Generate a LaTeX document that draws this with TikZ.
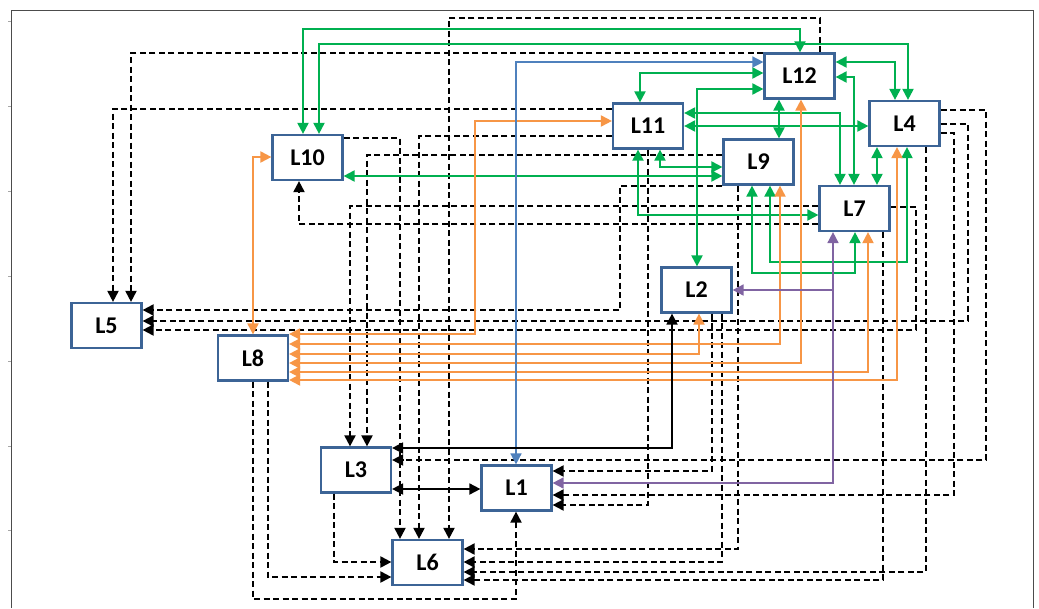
\documentclass[tikz,border=0pt]{standalone}
\usepackage{fontspec}
\setmainfont{Carlito}
\usetikzlibrary{arrows.meta}
\definecolor{boxc}{RGB}{60,100,150}
\definecolor{cgreen}{RGB}{0,176,80}
\definecolor{corange}{RGB}{247,150,70}
\definecolor{cblue}{RGB}{79,129,189}
\definecolor{cpurple}{RGB}{128,100,162}
\begin{document}
\begin{tikzpicture}[x=1pt,y=-1pt,
  >={Triangle[length=11pt,width=11pt]},
  box/.style={draw=boxc,line width=2.2pt,fill=white,minimum width=70pt,minimum height=45pt,inner sep=0pt,font=\bfseries\fontsize{24}{24}\selectfont},
  dsh/.style={draw=black,line width=2pt,dash pattern=on 6pt off 3.5pt,->},
  grn/.style={draw=cgreen,line width=2pt,<->},
  org/.style={draw=corange,line width=2pt,<->},
  blu/.style={draw=cblue,line width=1.6pt,<->},
  pur/.style={draw=cpurple,line width=1.7pt},
  blk/.style={draw=black,line width=1.8pt,<->},
  tick/.style={draw=black!35,line width=0.8pt}]
\useasboundingbox (0,0) rectangle (1039,608);
\fill[white] (0,0) rectangle (1039,608);
% frame and ticks
\draw[black!70,line width=1pt] (11,608) -- (11,10.5) -- (1033,10.5) -- (1033,608);
\foreach \t in {21,106,191,276,361,446,530} \draw[tick] (8,\t) -- (11,\t);
% boxes
\node[box] (L10) at (307.5,157.5) {L10};
\node[box] (L5)  at (106.5,325.5) {L5};
\node[box] (L8)  at (253,358) {L8};
\node[box] (L3)  at (356,470) {L3};
\node[box] (L6)  at (427.5,562.5) {L6};
\node[box] (L1)  at (516.5,488) {L1};
\node[box] (L11) at (648,126) {L11};
\node[box] (L12) at (799.5,76) {L12};
\node[box] (L9)  at (758.5,162) {L9};
\node[box] (L4)  at (904.5,123.5) {L4};
\node[box] (L7)  at (854.5,208.5) {L7};
\node[box] (L2)  at (696.5,290) {L2};
% dashed connectors
\draw[dsh] ([yshift=17]L11.west) -| ([xshift=6.5]L5.north);
\draw[dsh] ([yshift=23]L12.west) -| ([xshift=24.5]L5.north);
\draw[dsh] (L9.south west) -| (620,310) -- ([yshift=15.5]L5.east);
\draw[dsh] ([yshift=-0.5]L4.east) -| (968,321) -- ([yshift=4.5]L5.east);
\draw[dsh] ([yshift=1.5]L7.east) -| (916,330) -- ([yshift=-4.5]L5.east);
\draw[dsh] ([yshift=7]L9.west) -| ([xshift=11]L3.north);
\draw[dsh] ([yshift=2.5]L7.west) -| ([xshift=-6]L3.north);
\draw[dsh] ([yshift=-15.5]L7.west) -| ([xshift=-8.5]L10.south);
\draw[dsh] ([yshift=13.5]L4.east) -| (986,460) -- ([yshift=10]L3.east);
\draw[dsh] ([yshift=-9.5]L4.east) -| (954,495) -- ([yshift=-7]L1.east);
\draw[dsh] ([xshift=21.5]L4.south) |- ([yshift=-9.5]L6.east);
\draw[dsh] ([xshift=28.5]L7.south) |- ([yshift=-17.5]L6.east);
\draw[dsh] ([xshift=-20.5]L9.south) |- ([yshift=13.5]L6.east);
\draw[dsh] ([xshift=25.5]L2.south) |- ([yshift=0.5]L6.east);
\draw[dsh] ([xshift=15.5]L2.south) |- ([yshift=17]L1.east);
\draw[dsh] (L11.south) |- ([yshift=-17]L1.east);
\draw[dsh] (L8.south) |- (516,599) -- ([xshift=-0.5]L1.south);
\draw[dsh] ([xshift=15]L8.south) |- ([yshift=-14.5]L6.west);
\draw[dsh] ([xshift=-22]L3.south) |- ([yshift=0.5]L6.west);
\draw[dsh] ([yshift=19.5]L10.east) -| ([xshift=-27.5]L6.north);
\draw[dsh] ([yshift=-10]L11.west) -| ([xshift=-8.5]L6.north);
\draw[dsh] ([xshift=20.5]L12.north) |- (449,18) -- ([xshift=21.5]L6.north);
% green connectors
\draw[grn] ([xshift=-4.5]L10.north) |- (800,29) -- ([xshift=0.5]L12.north);
\draw[grn] ([xshift=11.5]L10.north) |- (908,44) -- ([xshift=3.5]L4.north);
\draw[grn] ([yshift=14]L12.east) -| ([xshift=-9.5]L4.north);
\draw[grn] ([yshift=-1]L12.east) -| ([xshift=-0.5]L7.north);
\draw[grn] ([yshift=3]L12.west) -| ([xshift=-8]L11.north);
\draw[grn] ([yshift=-13]L12.west) -| ([xshift=0.5]L2.north);
\draw[grn] ([xshift=-20.5]L12.south) -- ([xshift=20.5]L9.north);
\draw[grn] ([yshift=13]L11.east) -| ([xshift=-14.5]L7.north);
\draw[grn] (L11.east) -- ([yshift=-2.5]L4.west);
\draw[grn] ([xshift=-10]L11.south) |- ([yshift=-6.5]L7.west);
\draw[grn] ([xshift=12]L11.south) |- ([yshift=-5]L9.west);
\draw[grn] ([yshift=-18.5]L10.east) -- ([yshift=-14]L9.west);
\draw[grn] ([xshift=-6.5]L9.south) |- (855,273) -- ([xshift=0.5]L7.south);
\draw[grn] ([xshift=11.5]L9.south) |- (907,262) -- ([xshift=2.5]L4.south);
\draw[grn] ([xshift=-27.5]L4.south) -- ([xshift=22.5]L7.north);
% orange connectors
\draw[org] ([yshift=0.5]L10.west) -| (L8.north);
\draw[org] ([yshift=5]L11.west) -| (475,334) -- ([yshift=24]L8.east);
\draw[org] ([xshift=21.5]L9.south) |- ([yshift=14]L8.east);
\draw[org] ([xshift=2.5]L2.south) |- ([yshift=4]L8.east);
\draw[org] ([xshift=1.5]L12.south) |- ([yshift=-5]L8.east);
\draw[org] ([xshift=13.5]L7.south) |- ([yshift=-14]L8.east);
\draw[org] ([xshift=-7.5]L4.south) |- ([yshift=-22]L8.east);
% blue connector
\draw[blu] ([xshift=-0.5]L1.north) |- ([yshift=14]L12.west);
% purple connectors
\coordinate (pj) at (833,290);
\draw[pur,<->] ([xshift=-21.5]L7.south) |- ([yshift=5]L1.east);
\draw[pur,line width=2.7pt,shorten <=10pt] ([xshift=-21.5]L7.south) -- (pj);
\draw[pur,->] (pj) -- (L2.east);
% black solid connectors
\draw[blk] ([xshift=-24.5]L2.south) |- ([yshift=22]L3.east);
\draw[blk] ([yshift=-19]L3.east) -- ([yshift=-1]L1.west);
\end{tikzpicture}
\end{document}
